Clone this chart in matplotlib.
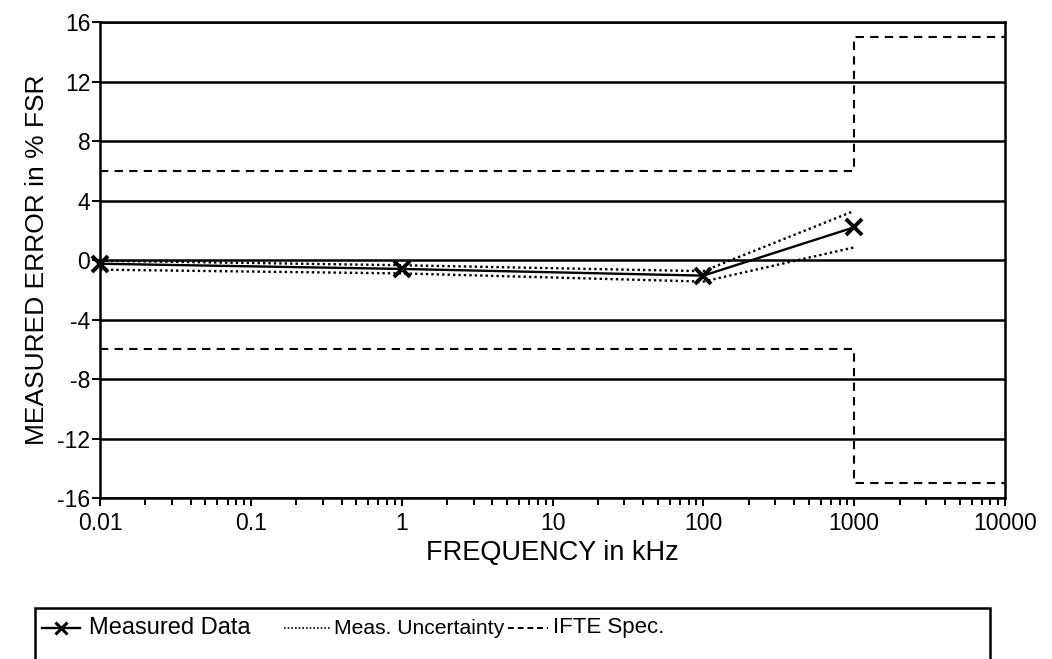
import matplotlib
matplotlib.use("Agg")
import matplotlib.pyplot as plt
from matplotlib.lines import Line2D
from matplotlib.patches import Rectangle
from matplotlib.ticker import FixedLocator, LogLocator, NullFormatter

plt.rcParams['font.family'] = ['Liberation Sans', 'DejaVu Sans']

# Measured error vs frequency
freq_khz = [0.01, 1, 100, 1000]
measured = [-0.25, -0.6, -1.05, 2.2]
unc_upper = [-0.05, -0.35, -0.75, 3.3]
unc_lower = [-0.65, -0.9, -1.45, 0.85]

# IFTE specification limits (step boundaries)
spec_freq = [0.01, 1000, 1000, 10000]
spec_upper = [6, 6, 15, 15]
spec_lower = [-6, -6, -15, -15]

x_ticks = [0.01, 0.1, 1, 10, 100, 1000, 10000]
x_tick_labels = ["0.01", "0.1", "1", "10", "100", "1000", "10000"]
y_ticks = [16, 12, 8, 4, 0, -4, -8, -12, -16]

fig = plt.figure(figsize=(10.52, 6.59), dpi=100)
ax = fig.add_axes([0.0951, 0.2443, 0.8602, 0.7223])

ax.set_xscale('log')
ax.set_xlim(0.01, 10000)
ax.set_ylim(-16, 16)

for yv in y_ticks:
    ax.axhline(yv, color='black', lw=1.8, zorder=1)

ax.plot(spec_freq, spec_upper, color='black', lw=1.5, ls=(0, (4, 3)), zorder=2)
ax.plot(spec_freq, spec_lower, color='black', lw=1.5, ls=(0, (4, 3)), zorder=2)
ax.plot(freq_khz, unc_upper, color='black', lw=1.7, ls=(0, (1, 1.3)), zorder=3)
ax.plot(freq_khz, unc_lower, color='black', lw=1.7, ls=(0, (1, 1.3)), zorder=3)
ax.plot(freq_khz, measured, color='black', lw=1.7, marker='x', ms=11, mew=2.8,
        zorder=4, clip_on=False)

ax.xaxis.set_major_locator(FixedLocator(x_ticks))
ax.set_xticklabels(x_tick_labels)
ax.xaxis.set_minor_locator(LogLocator(base=10, subs=range(2, 10), numticks=20))
ax.xaxis.set_minor_formatter(NullFormatter())
ax.set_yticks(y_ticks)
ax.set_yticklabels([str(v) for v in y_ticks])

ax.tick_params(axis='both', which='major', direction='out', length=6, width=1.4,
               labelsize=16.5, colors='black')
ax.tick_params(axis='x', which='major', pad=4)
ax.tick_params(axis='y', which='major', pad=1)
ax.tick_params(axis='x', which='minor', direction='out', length=5, width=1.4)
for sp in ax.spines.values():
    sp.set_color('black')
    sp.set_linewidth(1.8)

ax.set_xlabel("FREQUENCY in kHz", fontsize=19.5, labelpad=4)
ax.set_ylabel("MEASURED ERROR in % FSR", fontsize=19, labelpad=6)

# Legend box along the bottom edge
box = Rectangle((35 / 1052, -0.05), (990 - 35) / 1052, (659 - 608) / 659 + 0.05,
                transform=fig.transFigure, fill=False, edgecolor='black', lw=1.8,
                clip_on=False)
fig.add_artist(box)

ly = 1 - 628 / 659
fig.add_artist(Line2D([42 / 1052, 80 / 1052], [ly, ly], transform=fig.transFigure,
                      color='black', lw=1.7))
fig.add_artist(Line2D([61 / 1052], [ly], transform=fig.transFigure, color='black',
                      marker='x', ms=9, mew=2.2, ls='none'))
fig.text(89 / 1052, ly, "Measured Data", fontsize=17, va='center', ha='left')
fig.add_artist(Line2D([284 / 1052, 330 / 1052], [ly, ly], transform=fig.transFigure,
                      color='black', lw=1.2, ls=(0, (1, 1.2))))
fig.text(334 / 1052, ly, "Meas. Uncertainty", fontsize=15.2, va='center', ha='left')
fig.add_artist(Line2D([508 / 1052, 548 / 1052], [ly, ly], transform=fig.transFigure,
                      color='black', lw=1.4, ls=(0, (3, 2))))
fig.text(553 / 1052, ly, "IFTE Spec.", fontsize=16, va='center', ha='left')

fig.savefig("out.png", dpi=100, facecolor='white')
